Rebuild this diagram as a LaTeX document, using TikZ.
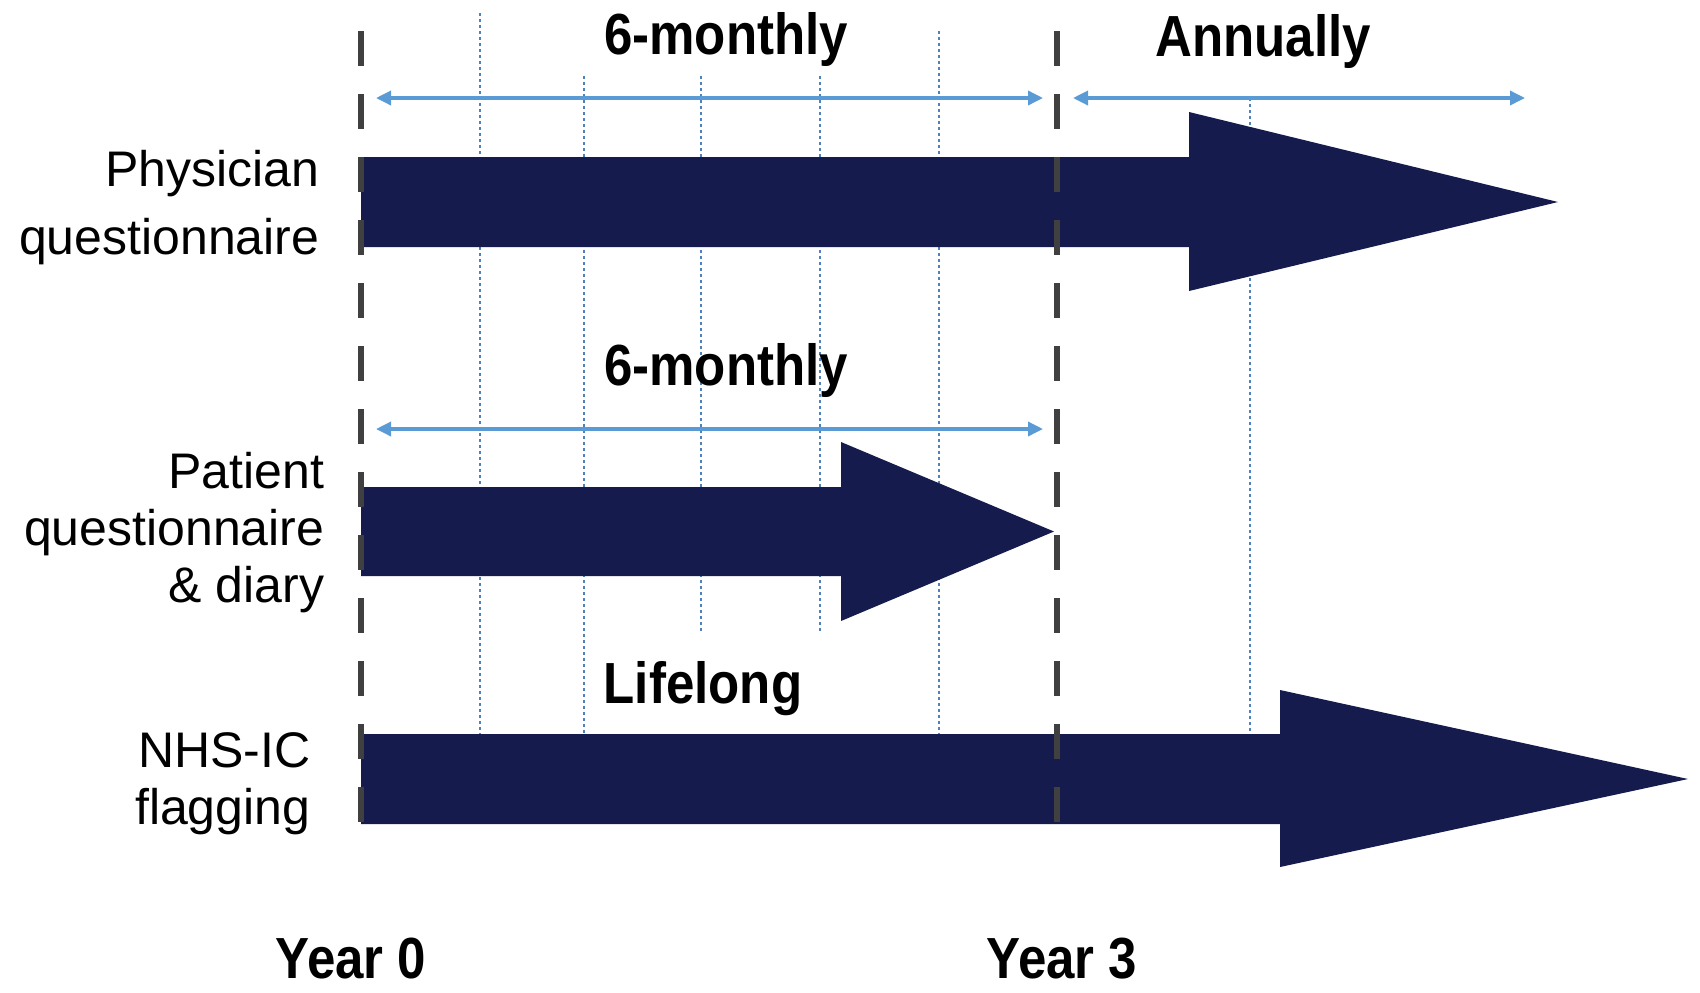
\documentclass[tikz,border=0pt]{standalone}
\usepackage{fontspec}
\setmainfont{Liberation Sans}
\newfontfamily\narrowsans[FakeStretch=0.88]{Liberation Sans}
\usetikzlibrary{arrows.meta}

\definecolor{barnavy}{RGB}{21,27,77}
\definecolor{spanblue}{RGB}{91,155,213}
\definecolor{gridblue}{RGB}{79,129,189}
\definecolor{yeargray}{RGB}{64,64,64}

\tikzset{every picture/.style={line width=0.75pt}}
\tikzset{
  bar/.style={fill=barnavy, draw=none},
  span/.style={spanblue, line width=1.7pt, {Triangle[length=7.5pt,width=7pt]}-{Triangle[length=7.5pt,width=7pt]}},
  yearline/.style={yeargray, line width=2.6pt, dash pattern=on 17.5pt off 14pt},
  gridline/.style={gridblue, line width=0.7pt, dash pattern=on 1.5pt off 1.5pt},
  heading/.style={font=\narrowsans\bfseries\fontsize{29}{34}\selectfont, inner sep=0pt, anchor=base},
  rowlabel/.style={font=\fontsize{25}{28.5}\selectfont, align=right, inner sep=0pt, anchor=north east},
}

\begin{document}
\begin{tikzpicture}[x=0.5pt,y=0.5pt,yscale=-1,xscale=1]
\useasboundingbox (0,0) rectangle (1700,992);

%Dotted 6-monthly / yearly marks
\draw [gridline] (480,13) -- (480,734);
\draw [gridline] (584,76) -- (584,734);
\draw [gridline] (701,76) -- (701,632);
\draw [gridline] (820,76) -- (820,632);
\draw [gridline] (939,31) -- (939,734);
\draw [gridline] (1250,98) -- (1250,734);

%Shape: Right Arrow (physician)
\fill [bar] (361,157) -- (1189,157) -- (1189,112) -- (1558,202) -- (1189,291) -- (1189,247) -- (361,247) -- cycle ;
%Shape: Right Arrow (patient)
\fill [bar] (361,487) -- (841,487) -- (841,442) -- (1054,531.5) -- (841,621) -- (841,576) -- (361,576) -- cycle ;
%Shape: Right Arrow (flagging)
\fill [bar] (361,734) -- (1280,734) -- (1280,690) -- (1688,779) -- (1280,867) -- (1280,824) -- (361,824) -- cycle ;

%Year lines
\draw [yearline] (361,31) -- (361,835) ;
\draw [yearline] (1057,31) -- (1057,835) ;

%Spans
\coordinate (spanAl) at (376,98);
\coordinate (spanAr) at (1043,98);
\coordinate (spanBl) at (1073,98);
\coordinate (spanBr) at (1525,98);
\coordinate (spanCl) at (376,429);
\coordinate (spanCr) at (1043,429);
\draw [span] (spanAl) -- (spanAr) ;
\draw [span] (spanBl) -- (spanBr) ;
\draw [span] (spanCl) -- (spanCr) ;

% Text Node
\node [heading] (monthlyA) at (726,54) {6-monthly};
% Text Node
\node [heading] (annually) at (1263,56) {Annually};
% Text Node
\node [heading] (monthlyB) at (726,385) {6-monthly};
% Text Node
\node [heading] (lifelong) at (703,703) {Lifelong};
% Text Node
\node [heading] (yearzero) at (351,978) {Year 0};
% Text Node
\node [heading] (yearthree) at (1062,978) {Year 3};
% Text Node
\node [rowlabel, font=\fontsize{25}{34}\selectfont] (physlabel) at (320,150) {Physician\\questionnaire};
% Text Node
\node [rowlabel] (patlabel) at (325,452) {Patient\\questionnaire\\\& diary};
% Text Node
\node [rowlabel] (nhslabel) at (311,732) {NHS-IC\\flagging};

\end{tikzpicture}
\end{document}
